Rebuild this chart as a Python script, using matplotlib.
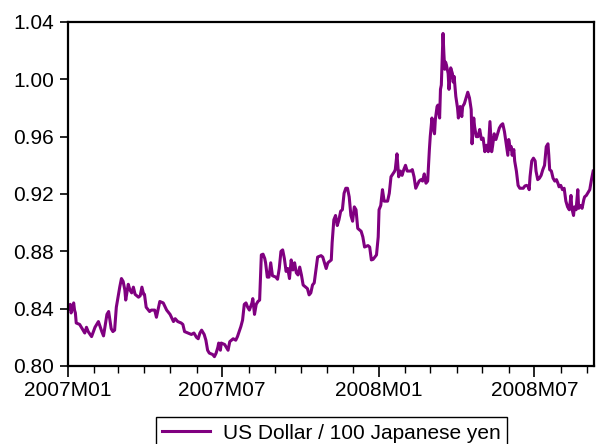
import numpy as np
import pandas as pd
import matplotlib
matplotlib.use("Agg")
import matplotlib.pyplot as plt
import matplotlib.dates as mdates

plt.rcParams['font.family'] = ['Liberation Sans', 'DejaVu Sans']

# USD per 100 JPY
dates = [
    "2007-01-02", "2007-01-04", "2007-01-05", "2007-01-08", "2007-01-09", "2007-01-10",
    "2007-01-11", "2007-01-15", "2007-01-19", "2007-01-21", "2007-01-23", "2007-01-25",
    "2007-01-29", "2007-02-02", "2007-02-06", "2007-02-10", "2007-02-12", "2007-02-16",
    "2007-02-18", "2007-02-21", "2007-02-23", "2007-02-25", "2007-02-27", "2007-03-03",
    "2007-03-05", "2007-03-07", "2007-03-09", "2007-03-10", "2007-03-13", "2007-03-15",
    "2007-03-17", "2007-03-19", "2007-03-21", "2007-03-25", "2007-03-27", "2007-03-29",
    "2007-03-31", "2007-04-01", "2007-04-03", "2007-04-07", "2007-04-09", "2007-04-13",
    "2007-04-15", "2007-04-19", "2007-04-23", "2007-04-27", "2007-05-01", "2007-05-05",
    "2007-05-07", "2007-05-10", "2007-05-14", "2007-05-16", "2007-05-18", "2007-05-22",
    "2007-05-26", "2007-05-29", "2007-06-01", "2007-06-03", "2007-06-05", "2007-06-07",
    "2007-06-10", "2007-06-12", "2007-06-14", "2007-06-16", "2007-06-20", "2007-06-22",
    "2007-06-24", "2007-06-26", "2007-06-27", "2007-06-29", "2007-06-30", "2007-07-04",
    "2007-07-08", "2007-07-10", "2007-07-14", "2007-07-17", "2007-07-19", "2007-07-21",
    "2007-07-23", "2007-07-25", "2007-07-27", "2007-07-29", "2007-07-31", "2007-08-02",
    "2007-08-05", "2007-08-06", "2007-08-08", "2007-08-10", "2007-08-12", "2007-08-14",
    "2007-08-16", "2007-08-18", "2007-08-20", "2007-08-21", "2007-08-23", "2007-08-25",
    "2007-08-27", "2007-08-29", "2007-09-02", "2007-09-04", "2007-09-06", "2007-09-08",
    "2007-09-10", "2007-09-12", "2007-09-14", "2007-09-16", "2007-09-18", "2007-09-20",
    "2007-09-22", "2007-09-24", "2007-09-26", "2007-09-28", "2007-09-30", "2007-10-02",
    "2007-10-04", "2007-10-07", "2007-10-09", "2007-10-11", "2007-10-13", "2007-10-15",
    "2007-10-17", "2007-10-19", "2007-10-21", "2007-10-25", "2007-10-27", "2007-10-29",
    "2007-10-31", "2007-11-02", "2007-11-06", "2007-11-07", "2007-11-09", "2007-11-11",
    "2007-11-13", "2007-11-15", "2007-11-17", "2007-11-19", "2007-11-21", "2007-11-23",
    "2007-11-25", "2007-11-27", "2007-11-29", "2007-12-01", "2007-12-03", "2007-12-05",
    "2007-12-07", "2007-12-11", "2007-12-13", "2007-12-15", "2007-12-19", "2007-12-21",
    "2007-12-23", "2007-12-25", "2007-12-29", "2007-12-31",
    "2008-01-01", "2008-01-03", "2008-01-05", "2008-01-07", "2008-01-11", "2008-01-13",
    "2008-01-15", "2008-01-19", "2008-01-20", "2008-01-22", "2008-01-24", "2008-01-26",
    "2008-01-28", "2008-01-30", "2008-02-01", "2008-02-03", "2008-02-07", "2008-02-09",
    "2008-02-11", "2008-02-13", "2008-02-17", "2008-02-19", "2008-02-21", "2008-02-23",
    "2008-02-25", "2008-02-27", "2008-02-29", "2008-03-01", "2008-03-03", "2008-03-04",
    "2008-03-06", "2008-03-07", "2008-03-09", "2008-03-10", "2008-03-12", "2008-03-13",
    "2008-03-14", "2008-03-16", "2008-03-17", "2008-03-18", "2008-03-19", "2008-03-20",
    "2008-03-22", "2008-03-23", "2008-03-24", "2008-03-25", "2008-03-27", "2008-03-28",
    "2008-03-29", "2008-03-31", "2008-04-02", "2008-04-03", "2008-04-04", "2008-04-05",
    "2008-04-07", "2008-04-08", "2008-04-10", "2008-04-12", "2008-04-14", "2008-04-16",
    "2008-04-18", "2008-04-19", "2008-04-21", "2008-04-22", "2008-04-24", "2008-04-26",
    "2008-04-28", "2008-04-30", "2008-05-02", "2008-05-04", "2008-05-06", "2008-05-08",
    "2008-05-10", "2008-05-12", "2008-05-13", "2008-05-15", "2008-05-17", "2008-05-21",
    "2008-05-23", "2008-05-25", "2008-05-27", "2008-05-29", "2008-05-31", "2008-06-01",
    "2008-06-03", "2008-06-04", "2008-06-05", "2008-06-07", "2008-06-08", "2008-06-10",
    "2008-06-12", "2008-06-14", "2008-06-18", "2008-06-20", "2008-06-22", "2008-06-24",
    "2008-06-25", "2008-06-26", "2008-06-28", "2008-06-30", "2008-07-02", "2008-07-03",
    "2008-07-05", "2008-07-07", "2008-07-09", "2008-07-11", "2008-07-13", "2008-07-15",
    "2008-07-17", "2008-07-18", "2008-07-19", "2008-07-21", "2008-07-23", "2008-07-25",
    "2008-07-27", "2008-07-29", "2008-07-30", "2008-08-01", "2008-08-03", "2008-08-05",
    "2008-08-07", "2008-08-09", "2008-08-11", "2008-08-13", "2008-08-14", "2008-08-16",
    "2008-08-17", "2008-08-19", "2008-08-21", "2008-08-22", "2008-08-24", "2008-08-26",
    "2008-08-28", "2008-08-29", "2008-08-31", "2008-09-04", "2008-09-06", "2008-09-08",
]

usd_jpy100 = [
    0.840, 0.843, 0.837, 0.844, 0.839, 0.837,
    0.830, 0.829, 0.825, 0.823, 0.827, 0.824,
    0.8205, 0.827, 0.831, 0.824, 0.821, 0.836,
    0.838, 0.826, 0.824, 0.825, 0.841, 0.855,
    0.861, 0.859, 0.853, 0.846, 0.857, 0.853,
    0.851, 0.855, 0.850, 0.848, 0.849, 0.855,
    0.850, 0.850, 0.841, 0.838, 0.839, 0.839,
    0.834, 0.845, 0.844, 0.839, 0.836, 0.831,
    0.833, 0.831, 0.830, 0.829, 0.824, 0.823,
    0.822, 0.823, 0.820, 0.819, 0.823, 0.825,
    0.822, 0.818, 0.811, 0.809, 0.808, 0.8065,
    0.809, 0.813, 0.816, 0.811, 0.816, 0.815,
    0.811, 0.817, 0.819, 0.818, 0.8205, 0.824,
    0.8275, 0.832, 0.843, 0.844, 0.841, 0.839,
    0.844, 0.847, 0.836, 0.843, 0.845, 0.846,
    0.8775, 0.878, 0.875, 0.872, 0.862, 0.862,
    0.872, 0.863, 0.862, 0.8605, 0.868, 0.880,
    0.881, 0.875, 0.866, 0.868, 0.861, 0.874,
    0.867, 0.872, 0.865, 0.8635, 0.869, 0.8635,
    0.8565, 0.855, 0.854, 0.8496, 0.851, 0.8565,
    0.858, 0.867, 0.876, 0.877, 0.876, 0.872,
    0.868, 0.872, 0.874, 0.886, 0.902, 0.905,
    0.898, 0.902, 0.908, 0.909, 0.9205, 0.924,
    0.924, 0.918, 0.905, 0.901, 0.911, 0.909,
    0.896, 0.894, 0.890, 0.883, 0.884, 0.883,
    0.874, 0.8744, 0.8775, 0.890,
    0.909, 0.912, 0.923, 0.915, 0.915, 0.9205,
    0.932, 0.9356, 0.937, 0.948, 0.932, 0.936,
    0.933, 0.937, 0.940, 0.936, 0.936, 0.937,
    0.932, 0.924, 0.929, 0.930, 0.929, 0.934,
    0.9275, 0.929, 0.951, 0.960, 0.973, 0.967,
    0.962, 0.972, 0.981, 0.982, 0.973, 0.993,
    0.996, 1.032, 1.018, 1.007, 1.012, 1.010,
    1.004, 0.993, 1.001, 1.008, 1.004, 0.998,
    1.002, 0.988, 0.980, 0.973, 0.979, 0.981,
    0.974, 0.981, 0.983, 0.987, 0.991, 0.987,
    0.979, 0.955, 0.973, 0.967, 0.960, 0.960,
    0.965, 0.958, 0.959, 0.9495, 0.954, 0.9495,
    0.9705, 0.9495, 0.953, 0.962, 0.958, 0.966,
    0.968, 0.969, 0.9635, 0.955, 0.947, 0.958,
    0.951, 0.953, 0.947, 0.951, 0.943, 0.936,
    0.926, 0.924, 0.924, 0.9256, 0.926, 0.925,
    0.923, 0.932, 0.943, 0.945, 0.943, 0.936,
    0.930, 0.931, 0.933, 0.937, 0.940, 0.953,
    0.955, 0.947, 0.937, 0.936, 0.931, 0.929,
    0.930, 0.927, 0.925, 0.926, 0.923, 0.924,
    0.915, 0.911, 0.909, 0.919, 0.910, 0.905,
    0.911, 0.909, 0.923, 0.910, 0.912, 0.910,
    0.916, 0.918, 0.919, 0.923, 0.930, 0.936,
]

y_ticks = [0.80, 0.84, 0.88, 0.92, 0.96, 1.00, 1.04]

t = pd.to_datetime(dates)

fig = plt.figure(figsize=(5.97, 4.44), dpi=100)
ax = fig.add_axes([0.1134, 0.1757, 0.8816, 0.7748])

ax.plot(t, usd_jpy100, color="#800080", lw=2.2, label="US Dollar / 100 Japanese yen")

ax.set_xlim(pd.Timestamp("2007-01-01"), pd.Timestamp("2008-09-09"))
ax.set_ylim(0.80, 1.04)
ax.set_yticks(y_ticks)
ax.set_yticklabels([f"{v:.2f}" for v in y_ticks])

ax.xaxis.set_major_locator(mdates.MonthLocator(bymonth=[1, 7]))
ax.xaxis.set_major_formatter(mdates.DateFormatter("%YM%m"))
ax.xaxis.set_minor_locator(mdates.MonthLocator())

ax.tick_params(axis="both", which="major", labelsize=15, direction="out", width=1.2, color="black")
ax.tick_params(axis="x", which="major", length=8, pad=3)
ax.tick_params(axis="x", which="minor", length=5, width=1.0)
ax.tick_params(axis="y", which="major", length=6, pad=4)

for s in ax.spines.values():
    s.set_linewidth(1.6)

leg = fig.legend(loc="upper center", bbox_to_anchor=(0.555, 0.06),
                 fontsize=15, fancybox=False, edgecolor="black", framealpha=1,
                 handlelength=2.3, handletextpad=0.6, borderpad=0.3,
                 borderaxespad=0)
leg.get_frame().set_linewidth(1.0)

fig.savefig("out.png", dpi=100)
